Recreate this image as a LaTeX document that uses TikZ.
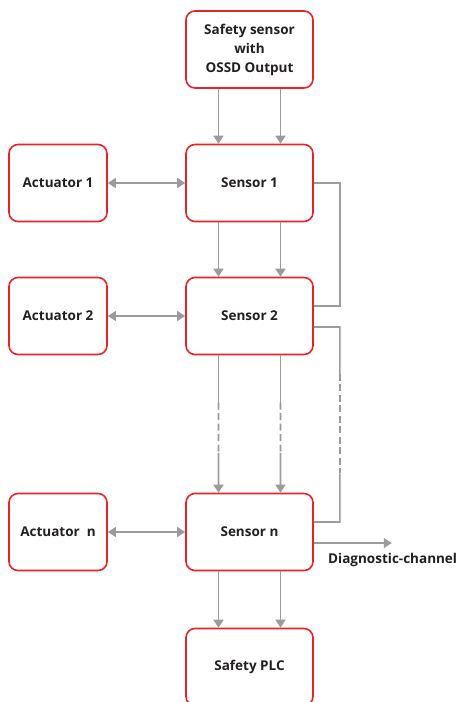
\documentclass[tikz,border=0pt]{standalone}
\usepackage{fontspec}
\setmainfont{Open Sans}
\usetikzlibrary{arrows.meta,calc}
\definecolor{boxred}{HTML}{E52329}
\definecolor{linegray}{HTML}{9B9B9B}
\definecolor{txtgray}{HTML}{231F20}

\begin{document}
\begin{tikzpicture}[x=1pt,y=-1pt,
	blk/.style={draw=boxred,line width=1.6pt,rounded corners=9pt,minimum width=127pt,minimum height=77pt,
		inner sep=0pt,align=center,text=txtgray,font=\bfseries\fontsize{13.5}{19}\selectfont},
	act/.style={blk,minimum width=98pt},
	lnk/.style={draw=linegray,line width=1.6pt},
	dsh/.style={lnk,dash pattern=on 7pt off 3.5pt},
	arr/.style={lnk,-{Triangle[width=10pt,length=8pt]}},
	barr/.style={lnk,{Triangle[width=10pt,length=8pt]}-{Triangle[width=10pt,length=8pt]}}]
	\useasboundingbox (0,0) rectangle (462,702);
	% blocks
	\node[blk] (ossd) at (249.5,49.5) {Safety sensor\\with\\OSSD Output};
	\node[blk] (s1) at (249.5,183) {Sensor 1};
	\node[blk] (s2) at (249.5,316) {Sensor 2};
	\node[blk] (sn) at (249.5,532) {Sensor n};
	\node[blk] (plc) at (249.5,667) {Safety PLC};
	\node[act] (a1) at (58,183) {Actuator 1};
	\node[act] (a2) at (58,316) {Actuator 2};
	\node[act] (an) at (58,532) {Actuator\ \ n};
	% actuator links
	\draw[barr] (a1) -- (s1);
	\draw[barr] (a2) -- (s2);
	\draw[barr] (an) -- (sn);
	% channels
	\foreach \dx in {-31,31} {
		\draw[arr] ([xshift=\dx pt]ossd.south) -- ([xshift=\dx pt]s1.north);
		\draw[arr] ([xshift=\dx pt]s1.south) -- ([xshift=\dx pt]s2.north);
		\draw[arr] ([xshift=\dx pt]sn.south) -- ([xshift=\dx pt]plc.north);
		\coordinate (c1) at ([xshift=\dx pt]s2.south);
		\coordinate (c2) at ([xshift=\dx pt]sn.north);
		\draw[lnk] (c1) -- ($(c1)!0.345!(c2)$);
		\draw[dsh] ($(c1)!0.345!(c2)$) -- ($(c1)!0.71!(c2)$);
		\draw[arr] ($(c1)!0.71!(c2)$) -- (c2);
	}
	% feedback loop
	\draw[lnk] (s1.east) -- ++(26,0) |- ([yshift=10pt]s2.east);
	\coordinate (r1) at ($([yshift=-11pt]s2.east)+(26,0)$);
	\coordinate (r2) at ($([yshift=10pt]sn.east)+(26,0)$);
	\draw[lnk] ([yshift=-11pt]s2.east) -- (r1) -- ($(r1)!0.24!(r2)$);
	\draw[dsh] ($(r1)!0.24!(r2)$) -- ($(r1)!0.75!(r2)$);
	\draw[lnk] ($(r1)!0.75!(r2)$) -- (r2) -- ([yshift=10pt]sn.east);
	% diagnostic output
	\coordinate (diag) at ($([yshift=-11pt]sn.east)+(78,0)$);
	\draw[arr] ([yshift=-11pt]sn.east) -- (diag);
	\node[text=txtgray,font=\bfseries\fontsize{13.5}{15}\selectfont,anchor=north west,inner sep=0pt] (dlab) at (328,553) {Diagnostic-channel};
\end{tikzpicture}
\end{document}
